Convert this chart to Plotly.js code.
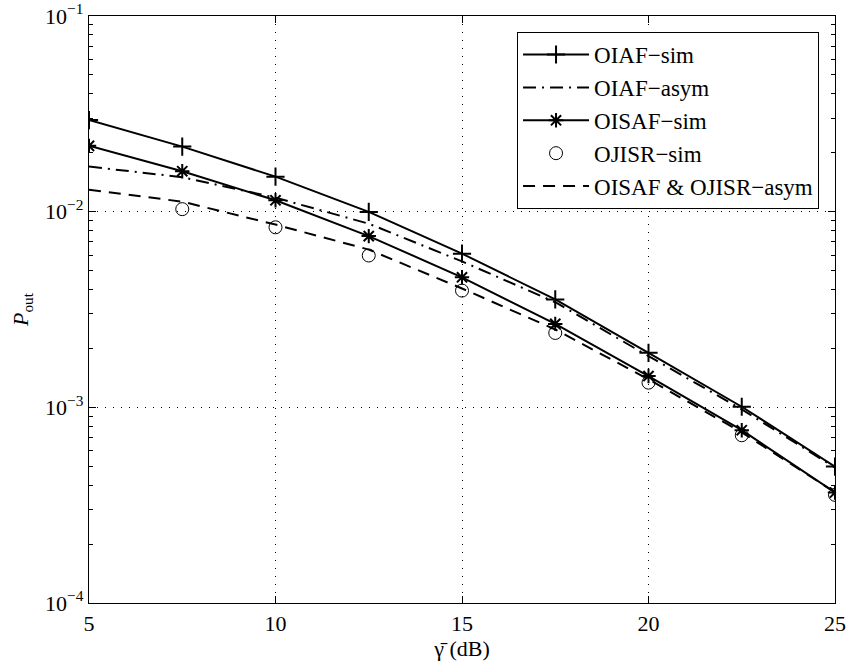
<!DOCTYPE html>
<html>
<head>
<meta charset="utf-8">
<script src="https://cdn.plot.ly/plotly-3.0.1.min.js"></script>
<style>html,body{margin:0;padding:0;background:#fff;}#chart{width:849px;height:670px;}</style>
</head>
<body>
<div id="chart"></div>
<script>
// Data
const snrDb = [5, 7.5, 10, 12.5, 15, 17.5, 20, 22.5, 25];
const simSnrDb = [7.5, 10, 12.5, 15, 17.5, 20, 22.5, 25];
const oiafSim = [0.0294, 0.0215, 0.0151, 0.00997, 0.0061, 0.00356, 0.0019, 0.001007, 0.000498];
const oiafAsym = [0.0170, 0.0150, 0.01179, 0.00868, 0.00557, 0.003445, 0.001827, 0.000977, 0.000492];
const oisafSim = [0.0217, 0.0161, 0.01143, 0.0075, 0.00462, 0.00267, 0.001445, 0.000764, 0.000367];
const ojisrSim = [0.0103, 0.00832, 0.00597, 0.00395, 0.0024, 0.001337, 0.00072, 0.000357];
const jointAsym = [0.01295, 0.01125, 0.00859, 0.0064, 0.00405, 0.0025, 0.00139, 0.000745, 0.000368];
const seriesNames = ['OIAF\u2212sim', 'OIAF\u2212asym', 'OISAF\u2212sim', 'OJISR\u2212sim', 'OISAF &amp; OJISR\u2212asym'];
const yTickVals = [1e-4, 1e-3, 1e-2, 1e-1];
const yTickText = ['10<sup>\u22124</sup>', '10<sup>\u22123</sup>', '10<sup>\u22122</sup>', '10<sup>\u22121</sup>'];
const yMinorVals = [2e-4, 3e-4, 4e-4, 5e-4, 6e-4, 7e-4, 8e-4, 9e-4,
                    2e-3, 3e-3, 4e-3, 5e-3, 6e-3, 7e-3, 8e-3, 9e-3,
                    2e-2, 3e-2, 4e-2, 5e-2, 6e-2, 7e-2, 8e-2, 9e-2];
const xTickVals = [5, 10, 15, 20, 25];

const FONT = 'Liberation Serif';
const txt = {family: FONT, size: 22, color: '#000'};
const legTxt = {family: FONT, size: 23, color: '#000'};
const traces = [
  {x: snrDb, y: oiafSim, name: seriesNames[0], mode: 'lines+markers', legendgroup: 'a',
   line: {color: '#000', width: 2}, marker: {symbol: 'cross-thin-open', size: 13, line: {color: '#000', width: 2}}},
  {x: snrDb, y: oiafAsym, name: seriesNames[1], mode: 'lines', legendgroup: 'b',
   line: {color: '#000', width: 2, dash: '13px,6px,2px,6px'}},
  {x: snrDb, y: oisafSim, name: seriesNames[2], mode: 'lines+markers', legendgroup: 'c',
   line: {color: '#000', width: 2}, marker: {symbol: 'asterisk-open', size: 12, line: {color: '#000', width: 2}}},
  {x: simSnrDb, y: ojisrSim, name: seriesNames[3], mode: 'markers', legendgroup: 'd',
   marker: {symbol: 'circle-open', size: 13, color: '#000', line: {color: '#000', width: 1}}},
  {x: snrDb, y: jointAsym, name: seriesNames[4], mode: 'lines', legendgroup: 'e',
   line: {color: '#000', width: 2, dash: '12px,8px'}}
];

const layout = {
  width: 849, height: 670,
  margin: {l: 89, r: 14, t: 16, b: 67},
  paper_bgcolor: '#fff', plot_bgcolor: '#fff',
  font: txt,
  showlegend: true,
  legend: {x: 0.9786, y: 0.9727, xanchor: 'right', yanchor: 'top',
    bgcolor: '#fff', bordercolor: '#000', borderwidth: 1, itemwidth: 66,
    font: legTxt, traceorder: 'grouped', tracegroupgap: 0},
  xaxis: {
    range: [5, 25], tickvals: xTickVals, ticks: 'inside', ticklen: 7, tickwidth: 1, tickcolor: '#000',
    showline: true, linecolor: '#000', linewidth: 1.2, mirror: 'ticks',
    showgrid: true, gridcolor: '#000', gridwidth: 1, griddash: '1px,7px', zeroline: false,
    tickfont: txt,
    title: {text: '\u03b3\u0304 (dB)', font: txt, standoff: 4}
  },
  yaxis: {
    type: 'log', range: [-4, -1], tickvals: yTickVals, ticktext: yTickText,
    ticks: 'inside', ticklen: 7, tickwidth: 1, tickcolor: '#000',
    showline: true, linecolor: '#000', linewidth: 1.2, mirror: 'ticks',
    showgrid: true, gridcolor: '#000', gridwidth: 1, griddash: '1px,7px', zeroline: false,
    minor: {tickvals: yMinorVals, ticks: 'inside', ticklen: 4, tickcolor: '#000', showgrid: false},
    tickfont: txt,
    title: {text: '<i>P</i><sub>out</sub>', font: txt, standoff: 10}
  }
};

Plotly.newPlot('chart', traces, layout, {displayModeBar: false, staticPlot: true});
</script>
</body>
</html>
